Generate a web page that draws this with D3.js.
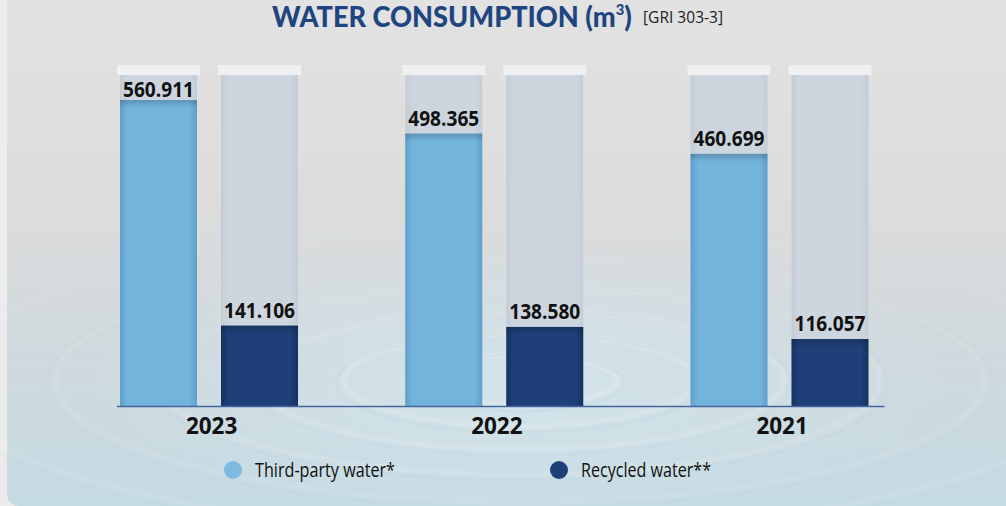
<!DOCTYPE html>
<html>
<head>
<meta charset="utf-8">
<script src="https://cdn.jsdelivr.net/npm/d3@7"></script>
<style>
  html, body { margin: 0; padding: 0; background: #ececec; }
  svg { display: block; }
</style>
</head>
<body>
<svg id="chart" width="1006" height="506"></svg>
<script>
// ---------- data ----------
const years = ["2023", "2022", "2021"];
const seriesNames = ["Third-party water*", "Recycled water**"];
const thirdParty = [560.911, 498.365, 460.699];
const recycled = [141.106, 138.580, 116.057];
const valueLabels = [["560.911", "141.106"], ["498.365", "138.580"], ["460.699", "116.057"]];
const trackMax = 607.5;   // height of the pale background columns
const titleText = "WATER CONSUMPTION (m";
const titleSup = "3";
const subText = "[GRI 303-3]";

// ---------- setup ----------
const W = 1006, H = 506;
const svg = d3.select("#chart");
const defs = svg.append("defs");

const colors = { tp: "#73b4dd", rc: "#1e3f78" };

// panel gradient
const pg = defs.append("linearGradient").attr("id", "panelG").attr("x1", 0).attr("y1", 0).attr("x2", 0).attr("y2", 1);
pg.append("stop").attr("offset", "0%").attr("stop-color", "#e3e3e3");
pg.append("stop").attr("offset", "45%").attr("stop-color", "#dcdcdc");
pg.append("stop").attr("offset", "70%").attr("stop-color", "#d0d9dd");
pg.append("stop").attr("offset", "100%").attr("stop-color", "#c5dbe3");

// ripple gradient
const rg = defs.append("radialGradient").attr("id", "rippleG").attr("cx", "50%").attr("cy", "50%").attr("r", "50%");
rg.append("stop").attr("offset", "0%").attr("stop-color", "#d3e5ec").attr("stop-opacity", 0.9);
rg.append("stop").attr("offset", "100%").attr("stop-color", "#d3e5ec").attr("stop-opacity", 0);

function hGrad(id, edge, mid) {
  const g = defs.append("linearGradient").attr("id", id).attr("x1", 0).attr("y1", 0).attr("x2", 1).attr("y2", 0);
  g.append("stop").attr("offset", "0%").attr("stop-color", edge);
  g.append("stop").attr("offset", "10%").attr("stop-color", mid);
  g.append("stop").attr("offset", "90%").attr("stop-color", mid);
  g.append("stop").attr("offset", "100%").attr("stop-color", edge);
}
hGrad("tpG", "#5f9fc9", colors.tp);
hGrad("rcG", "#16325f", colors.rc);
hGrad("trG", "#c4cdd6", "#cdd6de");
const vShade = defs.append("linearGradient").attr("id", "topShade").attr("x1", 0).attr("y1", 0).attr("x2", 0).attr("y2", 1);
vShade.append("stop").attr("offset", "0%").attr("stop-color", "#000").attr("stop-opacity", 0.18);
vShade.append("stop").attr("offset", "100%").attr("stop-color", "#000").attr("stop-opacity", 0);

// panel background
svg.append("rect").attr("x", 7).attr("y", -30).attr("width", W + 20).attr("height", H + 30)
  .attr("rx", 12).attr("fill", "url(#panelG)");

// soft ripples
const rip = svg.append("g");
rip.append("ellipse").attr("cx", 520).attr("cy", 385).attr("rx", 430).attr("ry", 140).attr("fill", "url(#rippleG)");
[60, 110, 165, 225, 290, 360].forEach((r, i) => {
  rip.append("ellipse").attr("cx", 520).attr("cy", 380).attr("rx", r * 1.6).attr("ry", r * 0.42)
    .attr("fill", "none").attr("stroke", "#ffffff").attr("stroke-opacity", 0.16 - i * 0.02).attr("stroke-width", 6);
  rip.append("ellipse").attr("cx", 520).attr("cy", 383).attr("rx", r * 1.6 + 8).attr("ry", r * 0.42 + 3)
    .attr("fill", "none").attr("stroke", "#9fbfcc").attr("stroke-opacity", 0.09 - i * 0.012).attr("stroke-width", 3);
});

// ---------- scales ----------
const baseY = 406;
const x0 = d3.scaleBand().domain(years).range([67, 922.75]).padding(0);
const x1 = d3.scaleBand().domain(seriesNames).range([53, 231]).paddingInner(24 / 101).paddingOuter(0);
const y = d3.scaleLinear().domain([0, trackMax]).range([401.4, 75]);

const data = years.map((yr, i) => ({
  year: yr,
  bars: [
    { key: seriesNames[0], value: thirdParty[i], label: valueLabels[i][0], fill: "url(#tpG)" },
    { key: seriesNames[1], value: recycled[i], label: valueLabels[i][1], fill: "url(#rcG)" }
  ]
}));

const groups = svg.append("g").selectAll("g").data(data).join("g")
  .attr("transform", d => `translate(${x0(d.year)},0)`);

const bars = groups.selectAll("g.bar").data(d => d.bars).join("g").attr("class", "bar");

// tracks
bars.append("rect")
  .attr("x", d => x1(d.key)).attr("y", y(trackMax))
  .attr("width", x1.bandwidth()).attr("height", baseY - y(trackMax))
  .attr("fill", "url(#trG)");
bars.append("rect")
  .attr("x", d => x1(d.key) - 3).attr("y", y(trackMax) - 10)
  .attr("width", x1.bandwidth() + 6).attr("height", 10)
  .attr("fill", "#eef0f2");

// value bars
bars.append("rect")
  .attr("x", d => x1(d.key)).attr("y", d => y(d.value))
  .attr("width", x1.bandwidth()).attr("height", d => baseY - y(d.value))
  .attr("fill", d => d.fill);
bars.append("rect")
  .attr("x", d => x1(d.key)).attr("y", d => y(d.value))
  .attr("width", x1.bandwidth()).attr("height", 8)
  .attr("fill", "url(#topShade)");

// value labels
bars.append("text")
  .attr("x", d => x1(d.key) + x1.bandwidth() / 2)
  .attr("y", d => Math.max(y(d.value) - 8, 97))
  .attr("text-anchor", "middle")
  .attr("font-family", "'Open Sans', sans-serif")
  .attr("font-weight", 700)
  .attr("font-size", 20.5)
  .attr("textLength", 71).attr("lengthAdjust", "spacingAndGlyphs")
  .attr("fill", "#111")
  .text(d => d.label);

// baseline
svg.append("line")
  .attr("x1", x0(years[0]) + x1(seriesNames[0]) - 3)
  .attr("x2", x0(years[2]) + x1(seriesNames[1]) + x1.bandwidth() + 16)
  .attr("y1", baseY + 0.5).attr("y2", baseY + 0.5)
  .attr("stroke", "#4565a0").attr("stroke-width", 1.5);

// year axis
const xAxis = d3.axisBottom(x0).tickSize(0).tickPadding(0);
const ax = svg.append("g").attr("transform", `translate(2,${baseY})`).call(xAxis);
ax.select(".domain").remove();
ax.selectAll("text")
  .attr("y", 28).attr("dy", 0)
  .attr("font-family", "'Open Sans', sans-serif")
  .attr("font-weight", 700)
  .attr("font-size", 22.5)
  .attr("fill", "#111");

// title
const title = svg.append("text").attr("x", 272).attr("y", 27)
  .attr("font-family", "Lato, sans-serif").attr("font-weight", 900)
  .attr("font-size", 27.5).attr("fill", "#1f4580");
title.append("tspan").text(titleText);
title.append("tspan").attr("font-size", 15).attr("dy", -12).text(titleSup);
title.append("tspan").attr("dy", 12).text(")");
// fit title width to 360px
const tw = title.node().getComputedTextLength();
title.attr("transform", `translate(272,0) scale(${360 / tw},1) translate(-272,0)`);

svg.append("text").attr("x", 643).attr("y", 23)
  .attr("font-family", "'Open Sans', sans-serif").attr("font-size", 16.5)
  .attr("textLength", 80).attr("lengthAdjust", "spacingAndGlyphs")
  .attr("fill", "#222").text(subText);

// legend
const legendX = [233, 559];
const legendFill = ["#7dbce0", colors.rc];
const legendW = [140, 130];
const lg = svg.append("g").selectAll("g").data(seriesNames).join("g")
  .attr("transform", (d, i) => `translate(${legendX[i]},470)`);
lg.append("circle").attr("r", 9).attr("fill", (d, i) => legendFill[i]);
lg.append("text").attr("x", 22).attr("y", 7)
  .attr("font-family", "'Open Sans', sans-serif").attr("font-size", 20)
  .attr("textLength", (d, i) => legendW[i]).attr("lengthAdjust", "spacingAndGlyphs")
  .attr("fill", "#111").text(d => d);
</script>
</body>
</html>
